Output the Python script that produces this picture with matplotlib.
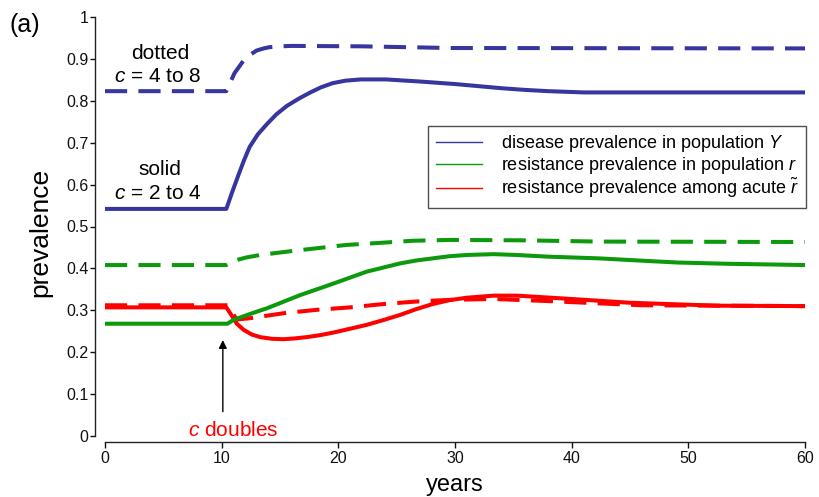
import matplotlib
matplotlib.use("Agg")
import matplotlib.pyplot as plt
from matplotlib.lines import Line2D
from matplotlib.ticker import FormatStrFormatter

plt.rcParams['font.family'] = ['Liberation Sans', 'DejaVu Sans']
plt.rcParams['mathtext.fontset'] = 'custom'
plt.rcParams['mathtext.rm'] = 'Liberation Sans'
plt.rcParams['mathtext.it'] = 'Liberation Sans:italic'

# ---- data ----
t_Y_solid = [0, 10.4, 10.9, 11.4, 11.9, 12.4, 13.1, 13.9, 14.7, 15.6, 16.6, 17.6, 18.5, 19.5, 20.6,
             21.9, 24.1, 27, 30, 32, 34, 36, 38, 41, 60]
Y_solid = [0.542, 0.542, 0.582, 0.62, 0.657, 0.69, 0.72, 0.745, 0.768, 0.788, 0.805, 0.82, 0.832,
           0.842, 0.848, 0.851, 0.851, 0.846, 0.840, 0.835, 0.830, 0.826, 0.823, 0.820, 0.820]

t_Y_dash = [0, 10.4, 11.1, 11.9, 12.5, 13, 13.6, 14.1, 15, 16, 22, 29.6, 60]
Y_dash = [0.823, 0.823, 0.866, 0.897, 0.911, 0.92, 0.925, 0.928, 0.930, 0.931, 0.930, 0.926, 0.925]

t_r_solid = [0, 10.5, 11, 12.4, 13.9, 16.7, 19.6, 22.4, 25.3, 26.7, 28.1, 29.5, 31, 33.3, 35.3, 38,
             42.3, 46.3, 49.1, 53.4, 60]
r_solid = [0.268, 0.268, 0.277, 0.291, 0.305, 0.336, 0.364, 0.392, 0.412, 0.419, 0.424, 0.429,
           0.432, 0.434, 0.432, 0.428, 0.424, 0.418, 0.414, 0.411, 0.408]

t_r_dash = [0, 10.4, 11, 12.1, 13.3, 15.6, 18.1, 20.7, 23.6, 26.4, 29.6, 35.8, 42.4, 60]
r_dash = [0.408, 0.408, 0.418, 0.426, 0.432, 0.44, 0.448, 0.456, 0.461, 0.466, 0.468, 0.467, 0.464, 0.463]

t_rt_solid = [0, 10.4, 10.8, 11.3, 11.9, 12.6, 13.3, 14.3, 15.3, 16.3, 17.3, 18.5, 19.6, 21, 22.4,
              23.9, 25.3, 26.7, 28.1, 29.5, 31, 33.3, 35.3, 40, 45, 52.5, 60]
rt_solid = [0.307, 0.307, 0.29, 0.268, 0.253, 0.242, 0.236, 0.232, 0.231, 0.233, 0.236, 0.241,
            0.247, 0.256, 0.265, 0.277, 0.289, 0.303, 0.315, 0.324, 0.330, 0.335, 0.335, 0.327,
            0.318, 0.311, 0.310]

t_rt_dash = [0, 10.5, 11.3, 12.4, 15.3, 18.1, 21, 23.9, 26.7, 29.6, 33.3, 38, 46, 60]
rt_dash = [0.312, 0.312, 0.278, 0.281, 0.293, 0.301, 0.307, 0.315, 0.321, 0.325, 0.327, 0.322, 0.312, 0.310]

legend_labels = ["disease prevalence in population $Y$",
                 "resistance prevalence in population $r$",
                 r"resistance prevalence among acute $\tilde{r}$"]
x_ticks = [0, 10, 20, 30, 40, 50, 60]
y_ticks = [0, 0.1, 0.2, 0.3, 0.4, 0.5, 0.6, 0.7, 0.8, 0.9, 1.0]

BLUE = '#36369e'
GREEN = '#0c9a0c'
RED = '#ff0000'
LW = 2.9
DASH = (5.5, 2.8)

fig = plt.figure(figsize=(8.19, 4.97), dpi=100)
ax = fig.add_axes([105/819, 1-436/497, 700/819, 419/497])

kw = dict(solid_joinstyle='round', solid_capstyle='butt')
ax.plot(t_rt_dash, rt_dash, color=RED, lw=LW, dashes=DASH)
ax.plot(t_rt_solid, rt_solid, color=RED, lw=LW, **kw)
ax.plot(t_r_dash, r_dash, color=GREEN, lw=LW, dashes=DASH)
ax.plot(t_r_solid, r_solid, color=GREEN, lw=LW, **kw)
ax.plot(t_Y_dash, Y_dash, color=BLUE, lw=LW, dashes=DASH)
ax.plot(t_Y_solid, Y_solid, color=BLUE, lw=LW, **kw)

ax.set_xlim(0, 60)
ax.set_ylim(0, 1)
ax.set_xticks(x_ticks)
ax.set_yticks(y_ticks)
ax.yaxis.set_major_formatter(FormatStrFormatter('%g'))

for s in ['top', 'right']:
    ax.spines[s].set_visible(False)
ax.spines['left'].set_position(('outward', 7.2))
ax.spines['bottom'].set_position(('outward', 4.3))
ax.spines['left'].set_bounds(0, 1)
ax.spines['bottom'].set_bounds(0, 60)
for s in ['left', 'bottom']:
    ax.spines[s].set_color('#222222')
    ax.spines[s].set_linewidth(1.0)
ax.tick_params(axis='y', direction='out', length=3.5, width=1, pad=1, labelsize=11.5, colors='#111111')
ax.tick_params(axis='x', direction='out', length=4.3, width=1, pad=2.5, labelsize=11.5, colors='#111111')

ax.set_ylabel('prevalence', fontsize=19, va='center')
ax.yaxis.set_label_coords(-0.093, 0.485)
ax.set_xlabel('years', fontsize=17, va='center')
ax.xaxis.set_label_coords(0.5, -0.117)

ax.text(4.7, 0.914, 'dotted', fontsize=15, ha='center', va='center')
ax.text(4.5, 0.857, '$c$ = 4 to 8', fontsize=15, ha='center', va='center')
ax.text(4.7, 0.635, 'solid', fontsize=15, ha='center', va='center')
ax.text(4.5, 0.578, '$c$ = 2 to 4', fontsize=15, ha='center', va='center')

ax.annotate('', xy=(10.1, 0.229), xytext=(10.1, 0.058),
            arrowprops=dict(arrowstyle='-|>', color='black', lw=1.0, mutation_scale=12,
                            shrinkA=0, shrinkB=0))
ax.text(11.0, 0.012, '$c$ doubles', fontsize=15, color=RED, ha='center', va='center')

fig.text(25/819, 1-25/497, '(a)', fontsize=18, ha='center', va='center')

handles = [Line2D([], [], color=BLUE, lw=1),
           Line2D([], [], color=GREEN, lw=1),
           Line2D([], [], color=RED, lw=1)]
leg = ax.legend(handles, legend_labels, loc='upper right', bbox_to_anchor=(1.001, 0.74),
                borderaxespad=0, fontsize=13, frameon=True, fancybox=False,
                handlelength=2.6, handletextpad=1.0, labelspacing=0.05, borderpad=0.4)
leg.get_frame().set_edgecolor('#222222')
leg.get_frame().set_linewidth(1.0)

fig.savefig('out.png', dpi=100)
